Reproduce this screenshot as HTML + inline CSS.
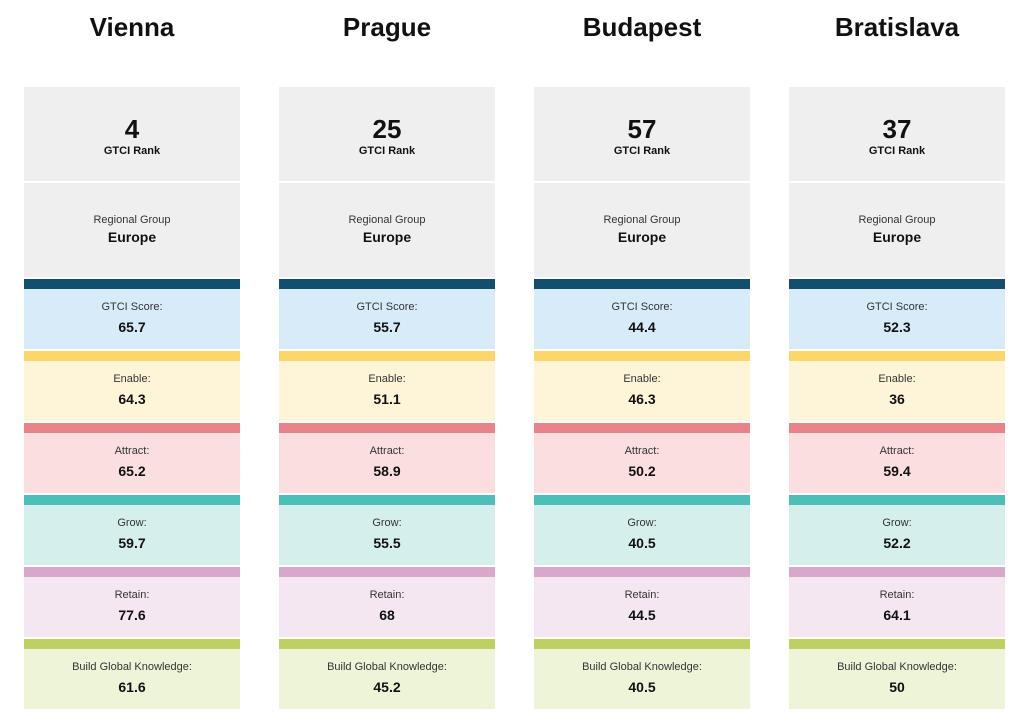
<!DOCTYPE html>
<html><head><style>
body{margin:0;width:1028px;height:728px;background:#fff;font-family:"Liberation Sans",sans-serif;position:relative;overflow:hidden}
.t{position:absolute;top:12px;width:216px;text-align:center;font-size:26px;font-weight:bold;color:#111}
.b{position:absolute;width:216px;text-align:center;color:#111}
.s{font-size:11px;color:#333}
.v{font-size:14px;font-weight:bold}
</style></head><body>
<div id="c"></div>
<script>
var cities=[["Vienna","4",["65.7","64.3","65.2","59.7","77.6","61.6"]],
["Prague","25",["55.7","51.1","58.9","55.5","68","45.2"]],
["Budapest","57",["44.4","46.3","50.2","40.5","44.5","40.5"]],
["Bratislava","37",["52.3","36","59.4","52.2","64.1","50"]]];
var labels=["GTCI Score:","Enable:","Attract:","Grow:","Retain:","Build Global Knowledge:"];
var bars=["#124f6e","#fdd66a","#e8838a","#4bbfb8","#d9a6cc","#bfd062"];
var fills=["#d8ebf8","#fef4d8","#fadee0","#d5efed","#f5e7f1","#eef4d8"];
var h="";
cities.forEach(function(c,i){
var x=24+i*255;
h+='<div class="t" style="left:'+x+'px">'+c[0]+'</div>';
h+='<div class="b" style="left:'+x+'px;top:87px;height:94px;background:#efefef"><div style="font-size:26px;font-weight:bold;margin-top:27px;line-height:30px">'+c[1]+'</div><div style="font-size:11px;font-weight:bold;line-height:14px">GTCI Rank</div></div>';
h+='<div class="b" style="left:'+x+'px;top:183px;height:94px;background:#efefef"><div class="s" style="margin-top:30px;line-height:14px">Regional Group</div><div class="v" style="line-height:20px">Europe</div></div>';
for(var k=0;k<6;k++){var y=279+k*72;
h+='<div class="b" style="left:'+x+'px;top:'+y+'px;height:10px;background:'+bars[k]+'"></div>';
h+='<div class="b" style="left:'+x+'px;top:'+(y+10)+'px;height:60px;background:'+fills[k]+'"><div class="s" style="margin-top:11px;line-height:14px">'+labels[k]+'</div><div class="v" style="line-height:20px;margin-top:3px">'+c[2][k]+'</div></div>';}
});
document.getElementById("c").innerHTML=h;
</script>
</body></html>
